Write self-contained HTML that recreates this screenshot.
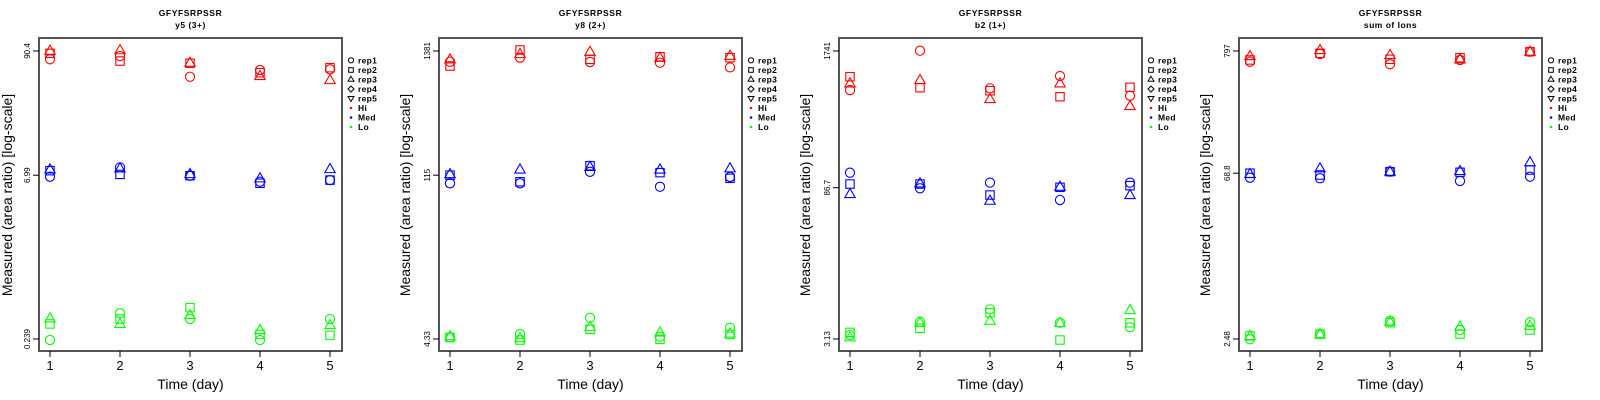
<!DOCTYPE html>
<html><head><meta charset="utf-8"><style>
html,body{margin:0;padding:0;background:#fff}
svg{display:block}
text{font-family:"Liberation Sans",sans-serif}
</style></head><body>
<svg id="chart" width="1600" height="400" viewBox="0 0 1600 400" xmlns="http://www.w3.org/2000/svg"></svg>
<script>
const days = [1,2,3,4,5];
const panelTitles = ["y5 (3+)","y8 (2+)","b2 (1+)","sum of Ions"];
const tickLabels = [["90.4","6.99","0.239"],["1381","115","4.33"],["1741","86.7","3.13"],["797","68.8","2.48"]];
const tickValues = [[90.4,6.99,0.239],[1381,115,4.33],[1741,86.7,3.13],[797,68.8,2.48]];
const levels = ["Hi","Med","Lo"];
const reps = ["rep1","rep2","rep3"];
// values[panel][level][rep][day]
const p1Hi = [[76.2,81.5,53.2,61.1,62],[86.1,73.5,70.2,57.8,64.1],[91,92,71,54,49.7]];
const p1Med = [[6.78,8.22,6.92,6.11,6.32],[7.67,7.11,6.92,5.92,6.32],[7.89,8.05,7.16,6.56,7.94]];
const p1Lo = [[0.234,0.406,0.361,0.234,0.361],[0.326,0.361,0.456,0.263,0.258],[0.366,0.326,0.392,0.288,0.319]];
const p2Hi = [[1114,1208,1107,1092,995],[1023,1409,1169,1231,1208],[1169,1300,1361,1208,1256]];
const p2Med = [[97.7,97.7,123,91.2,111],[115,100.8,139,121,108],[117.5,129,136,129,132]];
const p2Lo = [[4.47,4.78,6.62,4.53,5.42],[4.47,4.24,5.25,4.30,4.75],[4.59,4.41,5.53,4.94,4.84]];
const p3Hi = [[739,1754,767,1005,653],[990,778,728,638,785],[857,922,607,857,521]];
const p3Med = [[120.4,85.5,96.8,66.2,96.8],[93.9,93.9,73.8,87.4,90.6],[75.5,95.4,65.2,88.5,73.8]];
const p3Lo = [[3.42,4.57,6.00,4.47,4.05],[3.62,3.96,5.57,3.06,4.47],[3.25,4.47,4.68,4.47,5.91]];
const p4Hi = [[643,751,611,666,786],[666,761,675,697,786],[721,813,736,675,786]];
const p4Med = [[62.9,62.2,71.0,58.9,64.2],[68.8,66.4,71.0,70.1,73.4],[67.7,76.0,71.0,72.0,85.7]];
const p4Lo = [[2.47,2.73,3.58,2.97,3.47],[2.64,2.73,3.44,2.74,2.97],[2.64,2.73,3.51,3.18,3.24]];
const values = [[p1Hi,p1Med,p1Lo],[p2Hi,p2Med,p2Lo],[p3Hi,p3Med,p3Lo],[p4Hi,p4Med,p4Lo]];
const legendItems = ["rep1","rep2","rep3","rep4","rep5","Hi","Med","Lo"];

const NS="http://www.w3.org/2000/svg";
const svg=document.getElementById('chart');
const colors=["#ff0000","#0000ff","#00ff00"];
function mk(tag,attrs,parent){const e=document.createElementNS(NS,tag);for(const k in attrs)e.setAttribute(k,attrs[k]);(parent||svg).appendChild(e);return e;}
function txt(s,attrs,parent){const e=mk('text',attrs,parent);e.textContent=s;return e;}

function marker(g,shape,cx,cy,col){
  let e;
  if(shape===0) e=mk('circle',{cx:cx,cy:cy,r:4.6,fill:'none',stroke:col,'stroke-width':1.1},g);
  else if(shape===1) e=mk('rect',{x:cx-4.2,y:cy-4.2,width:8.4,height:8.4,fill:'none',stroke:col,'stroke-width':1.1},g);
  else e=mk('polygon',{points:`${cx},${cy-5.5} ${cx-5.2},${cy+3.6} ${cx+5.2},${cy+3.6}`,fill:'none',stroke:col,'stroke-width':1.1},g);
  return e;
}

for(let p=0;p<4;p++){
  const ox=400*p;
  const g=mk('g',{});
  
  
  const L=39+ox,R=342+ox,T=38,B=351;
  const xs=d=>50+ox+(d-1)*70;
  const lt=Math.log10(tickValues[p][0]),lb=Math.log10(tickValues[p][2]);
  const ys=v=>51+(lt-Math.log10(v))/(lt-lb)*288;
  // titles
  const t1=txt("GFYFSRPSSR",{x:(L+R)/2,y:16,'text-anchor':'middle','font-size':8.5,'font-weight':'bold','letter-spacing':'0.6'},g);
  
  
  const t2=txt(panelTitles[p],{x:(L+R)/2,y:28,'text-anchor':'middle','font-size':8.5,'font-weight':'bold','letter-spacing':'0.5'},g);
  
  
  // box
  const box=mk('rect',{x:L,y:T,width:R-L,height:B-T,fill:'none',stroke:'#555','stroke-width':2},g);
  
  
  // x ticks
  days.forEach(d=>{
    mk('line',{x1:xs(d),x2:xs(d),y1:B,y2:B+6,stroke:'#000','stroke-width':1},g);
    const tl=txt(String(d),{x:xs(d),y:370,'text-anchor':'middle','font-size':13},g);
    
    
  });
  const xt=txt("Time (day)",{x:(L+R)/2,y:389,'text-anchor':'middle','font-size':14},g);
  
  
  // y ticks
  tickValues[p].forEach((v,i)=>{
    const y=ys(v);
    mk('line',{x1:L-6,x2:L,y1:y,y2:y,stroke:'#000','stroke-width':1},g);
    const tl=txt(tickLabels[p][i],{x:0,y:0,'text-anchor':'middle','font-size':8,transform:`translate(${L-9},${y}) rotate(-90)`},g);
    
    
  });
  const ytx=p===0?12:ox+10;
  const yt=txt("Measured (area ratio) [log-scale]",{x:0,y:0,'text-anchor':'middle','font-size':14,transform:`translate(${ytx},195) rotate(-90)`},g);
  
  
  // points
  levels.forEach((lv,li)=>{
    reps.forEach((rp,ri)=>{
      days.forEach((d,di)=>{
        const m=marker(g,ri,xs(d),ys(values[p][li][ri][di]),colors[li]);
        
        
      });
    });
  });
  // legend
  const lg=mk('g',{},g);
  
  
  const rowsY=[60.3,70,79.3,89,98.5,108,117.5,127];
  legendItems.forEach((it,i)=>{
    const y=rowsY[i],sx=R+9;
    const eg=mk('g',{},lg);
    
    
    if(i===0) mk('circle',{cx:sx,cy:y,r:2.6,fill:'none',stroke:'#000','stroke-width':1},eg);
    else if(i===1) mk('rect',{x:sx-2.3,y:y-2.3,width:4.6,height:4.6,fill:'none',stroke:'#000','stroke-width':1},eg);
    else if(i===2) mk('polygon',{points:`${sx},${y-3} ${sx-3},${y+2} ${sx+3},${y+2}`,fill:'none',stroke:'#000','stroke-width':1},eg);
    else if(i===3) mk('polygon',{points:`${sx},${y-3} ${sx+3},${y} ${sx},${y+3} ${sx-3},${y}`,fill:'none',stroke:'#000','stroke-width':1},eg);
    else if(i===4) mk('polygon',{points:`${sx},${y+3} ${sx-3},${y-2} ${sx+3},${y-2}`,fill:'none',stroke:'#000','stroke-width':1},eg);
    else mk('circle',{cx:sx,cy:y,r:1.3,fill:colors[i-5]},eg);
    txt(it,{x:R+16,y:y+3,'font-size':8.5,'font-weight':'bold','letter-spacing':'0.3'},eg);
  });
}
</script>
</body></html>
